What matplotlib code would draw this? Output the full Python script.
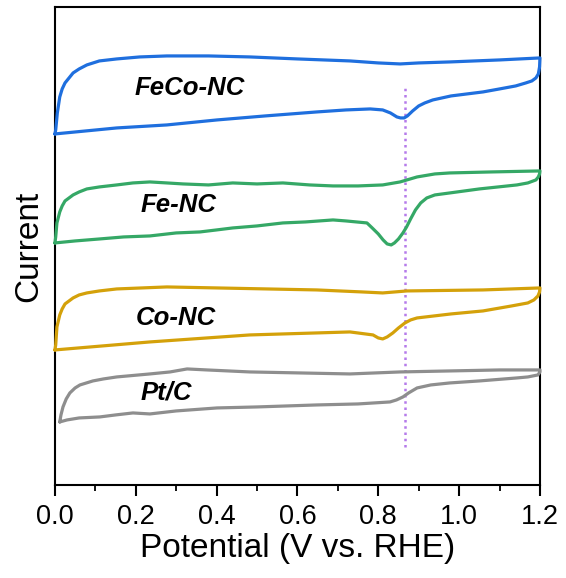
import matplotlib.pyplot as plt
from matplotlib.ticker import MultipleLocator

plt.rcParams['font.family'] = ['Liberation Sans', 'DejaVu Sans']

# potential (V vs RHE) and current (arb. units, curves offset)
# each CV: forward scan 0 -> 1.2 V, then reverse scan 1.2 -> 0 V
feco_fwd_v = [0.0, 0.002, 0.006, 0.012, 0.018, 0.025, 0.035, 0.045, 0.06, 0.079, 0.11, 0.153, 0.21, 0.277, 0.38, 0.482, 0.60, 0.73, 0.80, 0.854, 0.90, 0.977, 1.10, 1.20]
feco_fwd_i = [351, 355, 372, 388, 396, 402, 407, 412, 416, 420, 424, 426, 428, 429, 429, 428, 426, 424, 422, 421, 422, 423, 425, 427]
feco_rev_v = [1.20, 1.199, 1.196, 1.19, 1.18, 1.165, 1.14, 1.10, 1.059, 0.98, 0.935, 0.915, 0.90, 0.885, 0.872, 0.864, 0.855, 0.846, 0.83, 0.811, 0.78, 0.72, 0.648, 0.52, 0.401, 0.277, 0.153, 0.0]
feco_rev_i = [427, 418, 411, 407, 404, 402, 399, 396, 393, 389, 385, 382, 379, 374, 369, 367, 367, 368, 372, 375, 376, 375, 373, 369, 365, 360, 357, 351]

fe_fwd_v = [0.0, 0.002, 0.005, 0.012, 0.018, 0.025, 0.035, 0.045, 0.06, 0.079, 0.11, 0.153, 0.193, 0.235, 0.277, 0.317, 0.38, 0.44, 0.50, 0.564, 0.63, 0.688, 0.75, 0.811, 0.854, 0.896, 0.94, 0.977, 1.08, 1.20]
fe_fwd_i = [242, 248, 262, 273, 279, 284, 287, 290, 293, 296, 298, 300, 302, 303, 302, 301, 300, 302, 301, 302, 300, 299, 299, 300, 303, 308, 311, 312, 313, 314]
fe_rev_v = [1.20, 1.199, 1.196, 1.19, 1.17, 1.143, 1.05, 0.977, 0.94, 0.920, 0.905, 0.892, 0.880, 0.870, 0.861, 0.850, 0.840, 0.832, 0.822, 0.812, 0.800, 0.785, 0.772, 0.72, 0.688, 0.62, 0.564, 0.50, 0.440, 0.40, 0.359, 0.30, 0.235, 0.17, 0.111, 0.05, 0.0]
fe_rev_i = [314, 311, 308, 305, 302, 300, 296, 292, 290, 287, 282, 275, 266, 258, 252, 246, 242, 240, 241, 245, 251, 257, 262, 264, 265, 263, 262, 259, 257, 255, 253, 252, 249, 248, 246, 244, 242]

co_fwd_v = [0.0, 0.002, 0.005, 0.012, 0.018, 0.025, 0.035, 0.045, 0.06, 0.079, 0.11, 0.153, 0.277, 0.401, 0.648, 0.76, 0.811, 0.871, 1.059, 1.20]
co_fwd_i = [135, 140, 158, 170, 176, 181, 184, 187, 190, 192, 194, 196, 198, 197, 195, 193, 192, 194, 195, 197]
co_rev_v = [1.20, 1.199, 1.195, 1.185, 1.17, 1.13, 1.059, 0.98, 0.896, 0.88, 0.866, 0.85, 0.836, 0.822, 0.811, 0.80, 0.787, 0.73, 0.482, 0.235, 0.0]
co_rev_i = [197, 193, 189, 185, 182, 179, 174, 171, 167, 165, 162, 157, 152, 148, 146, 147, 150, 153, 150, 143, 135]

pt_fwd_v = [0.012, 0.015, 0.020, 0.028, 0.037, 0.05, 0.062, 0.078, 0.094, 0.12, 0.153, 0.235, 0.285, 0.327, 0.376, 0.482, 0.73, 0.854, 0.977, 1.10, 1.20]
pt_fwd_i = [63, 70, 78, 86, 92, 97, 100, 102, 104, 106, 108, 111, 113, 116, 115, 113, 111, 113, 114, 115, 115]
pt_rev_v = [1.20, 1.195, 1.17, 1.143, 1.05, 0.977, 0.93, 0.896, 0.875, 0.861, 0.845, 0.829, 0.75, 0.648, 0.50, 0.401, 0.30, 0.235, 0.193, 0.15, 0.111, 0.06, 0.03, 0.012]
pt_rev_i = [113, 110, 108, 107, 104, 102, 100, 97, 92, 88, 85, 83, 81, 80, 78, 77, 74, 71, 72, 70, 68, 67, 65, 63]

samples = ['FeCo-NC', 'Fe-NC', 'Co-NC', 'Pt/C']
colors = ['#1f6fde', '#35a866', '#d4a10a', '#8e8e8e']
label_pos = [(0.334, 397), (0.305, 280), (0.300, 167), (0.275, 92)]
peak_v = 0.865

curves = [
    (feco_fwd_v + feco_rev_v, feco_fwd_i + feco_rev_i),
    (fe_fwd_v + fe_rev_v, fe_fwd_i + fe_rev_i),
    (co_fwd_v + co_rev_v, co_fwd_i + co_rev_i),
    (pt_fwd_v + pt_rev_v, pt_fwd_i + pt_rev_i),
]

fig = plt.figure(figsize=(5.66, 5.78), dpi=100)
ax = fig.add_axes([0.097, 0.161, 0.857, 0.827])

for (v, i), c, name, (lx, ly) in zip(curves, colors, samples, label_pos):
    ax.plot(v, i, color=c, lw=2.3, solid_joinstyle='round', solid_capstyle='round',
            clip_on=False, zorder=3)
    ax.text(lx, ly, name, fontsize=18.5, fontweight='bold', fontstyle='italic',
            ha='center', va='center')

ax.plot([peak_v, peak_v], [38, 398], color='#b57bea', lw=1.8, ls=(0, (1, 1.5)), zorder=2)

ax.set_xlim(0, 1.2)
ax.set_ylim(0, 478)
ax.xaxis.set_major_locator(MultipleLocator(0.2))
ax.xaxis.set_minor_locator(MultipleLocator(0.1))
ax.set_yticks([])
ax.tick_params(axis='x', which='major', direction='out', length=8, width=1.5, labelsize=19.5, pad=6)
ax.tick_params(axis='x', which='minor', direction='out', length=4, width=1.3)
for s in ax.spines.values():
    s.set_linewidth(1.5)

ax.set_xlabel('Potential (V vs. RHE)', fontsize=24, labelpad=2)
ax.set_ylabel('Current', fontsize=24, labelpad=8)

fig.savefig('out.png', dpi=100)
